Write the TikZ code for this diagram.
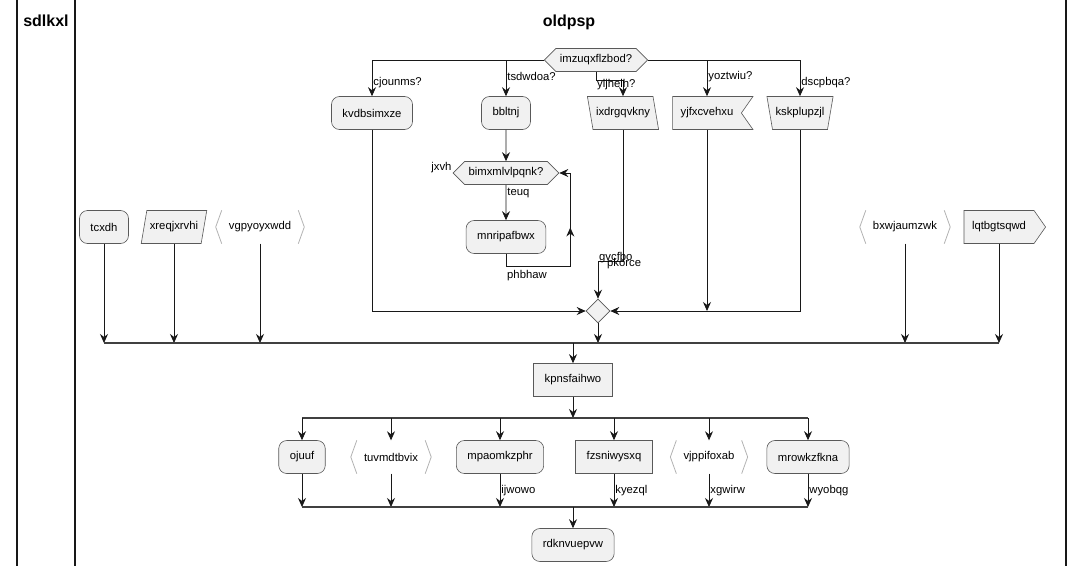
\documentclass[tikz,border=0pt]{standalone}
\usepackage{fontspec}
\setmainfont{Liberation Sans}
\usepackage{xcolor}
\usetikzlibrary{arrows.meta,shapes.geometric,shapes.symbols,decorations.markings}
\definecolor{boxgray}{RGB}{241,241,241}
\definecolor{penline}{RGB}{24,24,24}

\begin{document}
\begin{tikzpicture}[x=1pt, y=-1pt, font=\fontsize{11.3}{13}\selectfont,
  shapepen/.style={draw=black!65, fill=boxgray, line width=0.6pt},
  box/.style={shapepen, minimum height=33pt, inner xsep=11pt},
  roundbox/.style={box, rectangle, rounded corners=8pt},
  rectbox/.style={box, rectangle},
  hexa/.style={shapepen, signal, signal to=east and west, signal pointer angle=90,
    minimum height=23pt, inner xsep=4pt, inner ysep=3pt},
  trap/.style={box, trapezium, trapezium stretches=true, inner xsep=3pt},
  slantR/.style={trap, trapezium left angle=108, trapezium right angle=72},
  slantL/.style={trap, trapezium left angle=72, trapezium right angle=108},
  narrowbox/.style={trap, trapezium left angle=108, trapezium right angle=108},
  notchbox/.style={box, signal, signal to=nowhere, signal from=east, signal pointer angle=110, inner xsep=8pt},
  pointbox/.style={box, signal, signal to=east, signal pointer angle=110, inner xsep=8pt},
  anglebox/.style={rectangle, minimum height=33pt, inner xsep=13pt},
  mergedia/.style={shapepen, diamond, minimum width=24pt, minimum height=24pt, inner sep=0pt},
  tip/.style={-{Stealth[length=9pt, width=8pt, inset=3pt]}},
  flow/.style={draw=penline, line width=0.8pt, tip},
  midarrow/.style={postaction={decorate}, decoration={markings,
    mark=at position #1 with {\arrow{Stealth[length=9pt, width=8pt, inset=3pt]}}}},
  elabel/.style={inner sep=1pt, anchor=west},
  bar/.style={draw=black!75, line width=2.2pt},
  laneline/.style={draw=penline, line width=1.6pt},
  lanetitle/.style={font=\fontsize{16}{18}\selectfont\bfseries},
  angpen/.style={draw=black!30, line width=0.8pt}
]
\useasboundingbox (0,0) rectangle (1083,573);

% lanes
\draw[laneline] (17,0) -- (17,566);
\draw[laneline] (75,0) -- (75,566);
\draw[laneline] (1066,0) -- (1066,566);
\node[lanetitle] (sdlkxl) at (46,21) {sdlkxl};
\node[lanetitle] (oldpsp) at (569,22) {oldpsp};

% top switch
\node[hexa] (q1) at (596,60) {imzuqxflzbod?};
\node[roundbox] (kvdb) at (372,113) {kvdbsimxze};
\node[roundbox] (bblt) at (506,113) {bbltnj};
\node[slantR] (ixdr) at (623,113) {ixdrgqvkny};
\node[notchbox] (yjfx) at (707,113) {yjfxcvehxu};
\node[narrowbox] (kskp) at (800,113) {kskplupzjl};

\draw[flow] (q1.west) -| (kvdb.north) node[elabel, pos=0.815] (lcjo) {cjounms?};
\draw[flow] (q1.west) -| (bblt.north) node[elabel, pos=0.73] (ltsd) {tsdwdoa?};
\draw[flow] (q1.center |- q1.south) -- ++(0,9) -| (ixdr.north);
\node[elabel] (lylj) at ([yshift=-12.5pt]q1.center |- q1.south) {yljhelh?};
\draw[flow] (q1.east) -| (yjfx.north) node[elabel, pos=0.73] (lyoz) {yoztwiu?};
\draw[flow] (q1.east) -| (kskp.north) node[elabel, pos=0.815] (ldsc) {dscpbqa?};

% while loop
\node[hexa] (q2) at (506,173) {bimxmlvlpqnk?};
\node[roundbox] (mnri) at (506,237) {mnripafbwx};
\draw[flow] (bblt) -- (q2);
\draw[flow] (q2) -- (mnri) node[elabel, pos=0.22] (lteu) {teuq};
\node[inner sep=1pt, anchor=east] (ljxv) at ([yshift=5pt]q2.west) {jxvh};
\draw[flow, midarrow=0.64] (mnri.south) -- ++(0,13) -| ([xshift=11pt]q2.east) -- (q2.east);
\node[elabel] (lphb) at ([yshift=-22pt]mnri.south) {phbhaw};

% merge
\node[mergedia] (m1) at (598,311) {};
\draw[flow] (ixdr.south) |- ([yshift=37pt]m1.north) -- (m1.north);
\node[inner sep=1pt, anchor=base west] (lgvc) at ([yshift=38pt]m1.north) {gvcfbo};
\node[inner sep=1pt, anchor=base west] (lpko) at ([xshift=8pt, yshift=32pt]m1.north) {pkorce};
\draw[flow] (kvdb.south) |- (m1.west);
\draw[flow] (kskp.south) |- (m1.east);
\draw[flow] (yjfx.south) -- (yjfx.south |- m1.east);

% fork inputs
\coordinate (b1) at (573,343);
\node[roundbox] (tcxd) at (104,227) {tcxdh};
\node[slantL] (xreq) at (174,227) {xreqjxrvhi};
\node[anglebox] (vgpy) at (260,227) {vgpyoyxwdd};
\node[anglebox] (bxwj) at (905,227) {bxwjaumzwk};
\node[pointbox] (lqtb) at (999,227) {lqtbgtsqwd};
\foreach \n in {tcxd,xreq,vgpy,bxwj,lqtb}
  \draw[flow] (\n.south) -- (\n.south |- b1);
\draw[flow] (m1.south) -- (m1.south |- b1);
\draw[bar] (tcxd.south |- b1) -- (lqtb.south |- b1);

\node[rectbox] (kpns) at (573,380) {kpnsfaihwo};
\draw[flow] (b1) -- (kpns.north);

% second fork
\coordinate (b2) at (573,418);
\coordinate (b3) at (573,507);
\draw[flow] (kpns.south) -- (b2);
\node[roundbox] (ojuu) at (302,457) {ojuuf};
\node[anglebox] (tuvm) at (391,457) {tuvmdtbvix};
\node[roundbox] (mpao) at (500,457) {mpaomkzphr};
\node[rectbox] (fzsn) at (614,457) {fzsniwysxq};
\node[anglebox] (vjpp) at (709,457) {vjppifoxab};
\node[roundbox] (mrow) at (808,457) {mrowkzfkna};
\draw[bar] (ojuu.north |- b2) -- (mrow.north |- b2);
\foreach \n in {ojuu,tuvm,mpao,fzsn,vjpp,mrow}
  \draw[flow] (\n.north |- b2) -- (\n.north);
\draw[flow] (ojuu.south) -- (ojuu.south |- b3);
\draw[flow] (tuvm.south) -- (tuvm.south |- b3);
\draw[flow] (mpao.south) -- (mpao.south |- b3) node[elabel, pos=0.5] (lijw) {ijwowo};
\draw[flow] (fzsn.south) -- (fzsn.south |- b3) node[elabel, pos=0.5] (lkye) {kyezql};
\draw[flow] (vjpp.south) -- (vjpp.south |- b3) node[elabel, pos=0.5] (lxgw) {xgwirw};
\draw[flow] (mrow.south) -- (mrow.south |- b3) node[elabel, pos=0.5] (lwyo) {wyobqg};
\draw[bar] (ojuu.south |- b3) -- (mrow.south |- b3);

\node[roundbox] (rdkn) at (573,545) {rdknvuepvw};
\draw[flow] (b3) -- (rdkn.north);

% angle brackets
\foreach \n in {vgpy,bxwj,tuvm,vjpp} {
  \draw[angpen] ([xshift=6pt]\n.north west) -- (\n.west) -- ([xshift=6pt]\n.south west);
  \draw[angpen] ([xshift=-6pt]\n.north east) -- (\n.east) -- ([xshift=-6pt]\n.south east);
}
\end{tikzpicture}
\end{document}
